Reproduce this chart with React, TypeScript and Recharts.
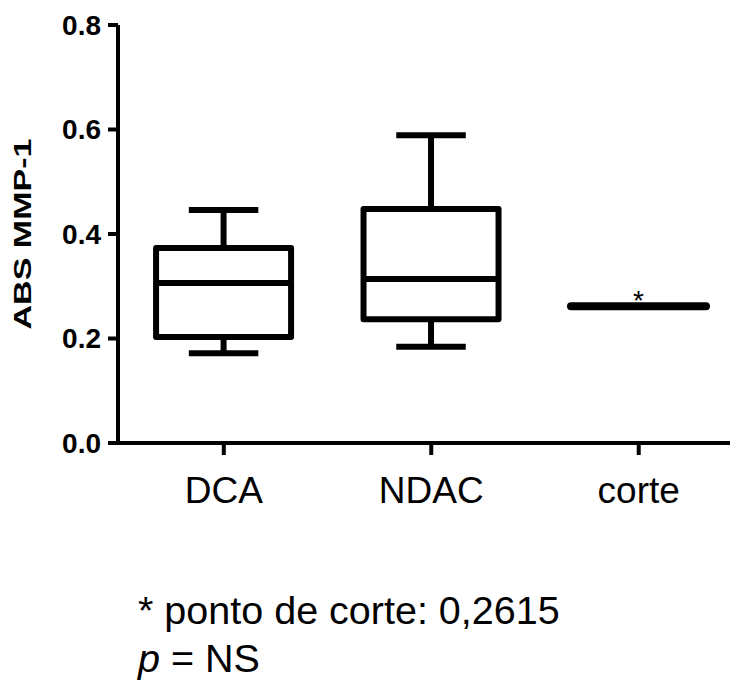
import React from "react";
import { ComposedChart, Bar, XAxis, YAxis } from "recharts";

const groups = ["DCA", "NDAC", "corte"];
const mins = [0.172, 0.184, 0.2615];
const q1s = [0.203, 0.237, 0.2615];
const medians = [0.306, 0.314, 0.2615];
const q3s = [0.373, 0.448, 0.2615];
const maxs = [0.446, 0.589, 0.2615];
const marks = ["", "", "*"];
const yTicks = [0, 0.2, 0.4, 0.6, 0.8];

const FONT = "'Liberation Sans', Arial, Helvetica, sans-serif";

const data = groups.map((name, i) => ({
  name,
  pos: i + 1,
  range: [mins[i], maxs[i]],
  min: mins[i],
  q1: q1s[i],
  median: medians[i],
  q3: q3s[i],
  max: maxs[i],
  mark: marks[i],
}));

function BoxShape(props: any) {
  const { x, y, width, height, payload } = props;
  const top = Math.min(y, y + height);
  const h = Math.abs(height);
  const span = payload.max - payload.min;
  const toY = (v: number) => (span > 0 ? top + (h * (payload.max - v)) / span : top);
  const cx = x + width / 2;
  const capHalf = width / 4 + 1;

  if (span === 0) {
    return (
      <g>
        <line x1={x} x2={x + width} y1={top} y2={top} stroke="#000" strokeWidth={8} strokeLinecap="round" />
        {payload.mark ? (
          <text x={cx} y={top + 4} textAnchor="middle" fontSize={28} fontFamily={FONT} fill="#000">
            {payload.mark}
          </text>
        ) : null}
      </g>
    );
  }

  const yMax = toY(payload.max);
  const yQ3 = toY(payload.q3);
  const yMed = toY(payload.median);
  const yQ1 = toY(payload.q1);
  const yMin = toY(payload.min);

  return (
    <g stroke="#000" strokeWidth={6} fill="none">
      <line x1={cx} x2={cx} y1={yMax} y2={yQ3} />
      <line x1={cx - capHalf} x2={cx + capHalf} y1={yMax} y2={yMax} />
      <line x1={cx} x2={cx} y1={yQ1} y2={yMin} />
      <line x1={cx - capHalf} x2={cx + capHalf} y1={yMin} y2={yMin} />
      <rect x={x} y={yQ3} width={width} height={yQ1 - yQ3} fill="#fff" strokeLinejoin="round" />
      <line x1={x} x2={x + width} y1={yMed} y2={yMed} />
    </g>
  );
}

function YLabel(props: any) {
  const { viewBox } = props;
  const cx = viewBox.x + 22;
  const cy = viewBox.y + viewBox.height / 2;
  return (
    <text
      x={cx}
      y={cy}
      transform={`rotate(-90, ${cx}, ${cy})`}
      textAnchor="middle"
      dominantBaseline="central"
      fontSize={24}
      fontWeight="bold"
      fontFamily={FONT}
      fill="#000"
      textLength={191}
      lengthAdjust="spacingAndGlyphs"
    >
      ABS MMP-1
    </text>
  );
}

export default function App() {
  return (
    <div style={{ position: "absolute", left: 0, top: 0, width: 730, height: 680, background: "#fff", fontFamily: FONT }}>
      <ComposedChart width={730} height={680} data={data} margin={{ top: 25, right: 0, bottom: 177, left: 0 }}>
        <XAxis
          dataKey="pos"
          type="number"
          domain={[0.49, 3.44]}
          ticks={[1, 2, 3]}
          allowDataOverflow
          tickFormatter={(v: number) => groups[v - 1]}
          height={60}
          tickSize={12}
          tickMargin={22}
          axisLine={{ stroke: "#000", strokeWidth: 4 }}
          tickLine={{ stroke: "#000", strokeWidth: 4 }}
          tick={{ fill: "#000", fontSize: 37, fontFamily: FONT }}
        />
        <YAxis
          type="number"
          domain={[0, 0.8]}
          ticks={yTicks}
          width={118}
          tickFormatter={(v: number) => v.toFixed(1)}
          tickSize={10}
          tickMargin={7}
          axisLine={{ stroke: "#000", strokeWidth: 4 }}
          tickLine={{ stroke: "#000", strokeWidth: 4 }}
          tick={{ fill: "#000", fontSize: 28, fontWeight: "bold", fontFamily: FONT }}
          label={<YLabel />}
        />
        <Bar dataKey="range" barSize={135} shape={<BoxShape />} isAnimationActive={false} />
      </ComposedChart>
      <div
        style={{
          position: "absolute",
          left: 138,
          top: 591,
          fontSize: 39.5,
          lineHeight: 1,
          color: "#000",
          whiteSpace: "nowrap",
        }}
      >
        * ponto de corte: 0,2615
      </div>
      <div
        style={{
          position: "absolute",
          left: 138,
          top: 639,
          fontSize: 39.5,
          lineHeight: 1,
          color: "#000",
          whiteSpace: "nowrap",
        }}
      >
        <i>p</i> = NS
      </div>
    </div>
  );
}
